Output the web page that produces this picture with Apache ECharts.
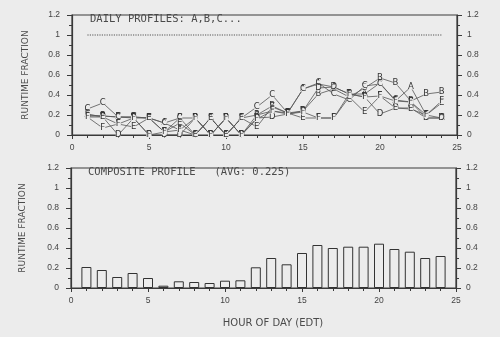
<!DOCTYPE html>
<html><head><meta charset="utf-8">
<script src="https://cdn.jsdelivr.net/npm/echarts@6/dist/echarts.min.js"></script>
<style>html,body{margin:0;padding:0;background:#ececec}#c{width:500px;height:337px}</style>
</head><body><div id="c"></div>
<script>
var hours = [1,2,3,4,5,6,7,8,9,10,11,12,13,14,15,16,17,18,19,20,21,22,23,24];
var profileNames = ['A','B','C','D','E','F'];
var profA = [0.20,0.19,0.18,0.17,0.17,0.12,0.05,0.00,0.17,0.00,0.17,0.20,0.24,0.22,0.46,0.51,0.48,0.41,0.41,0.52,0.34,0.48,0.20,0.17];
var profB = [0.19,0.19,0.18,0.18,0.17,0.03,0.17,0.17,0.00,0.17,0.00,0.20,0.29,0.22,0.24,0.41,0.46,0.38,0.47,0.57,0.52,0.34,0.41,0.43];
var profC = [0.26,0.32,0.18,0.18,0.17,0.12,0.17,0.00,0.17,0.00,0.17,0.28,0.40,0.22,0.46,0.52,0.41,0.35,0.49,0.51,0.35,0.33,0.17,0.17];
var profD = [0.18,0.18,0.00,0.17,0.00,0.00,0.00,0.17,0.00,0.17,0.00,0.17,0.18,0.21,0.24,0.47,0.48,0.41,0.38,0.21,0.27,0.27,0.17,0.17];
var profE = [0.21,0.18,0.11,0.08,0.17,0.03,0.12,0.00,0.17,0.00,0.17,0.08,0.28,0.22,0.17,0.17,0.17,0.38,0.23,0.39,0.27,0.26,0.20,0.32];
var profF = [0.18,0.07,0.11,0.17,0.00,0.03,0.05,0.17,0.00,0.17,0.00,0.16,0.24,0.21,0.23,0.17,0.17,0.41,0.38,0.39,0.34,0.33,0.20,0.34];
var refLineX = [1,24];
var refLineY = [1,1];
var composite = [0.21,0.18,0.11,0.15,0.10,0.023,0.067,0.06,0.05,0.073,0.077,0.207,0.30,0.237,0.35,0.43,0.40,0.413,0.413,0.443,0.39,0.363,0.30,0.32];
var xTicks = {min:0, max:25, interval:5};
var yTicks = {min:0, max:1.2, interval:0.2};
var titleTop = 'DAILY PROFILES: A,B,C...';
var titleBottom = 'COMPOSITE PROFILE   (AVG: 0.225)';
var yName = 'RUNTIME FRACTION';
var xName = 'HOUR OF DAY (EDT)';

var ink = '#3a3a3a';
var bg = '#ececec';
var lblFont = {color:'#444', fontSize:8.5, fontFamily:'Liberation Sans'};
function yLabelFmt(v){ return v===0?'0':(v===1?'1':String(Math.round(v*10)/10)); }

function xAxis(gi){
  return {type:'value', gridIndex:gi, min:xTicks.min, max:xTicks.max, interval:xTicks.interval,
    axisLine:{show:true,onZero:false,lineStyle:{color:ink,width:1.2}},
    axisTick:{show:true,inside:false,length:4,lineStyle:{color:ink}},
    minorTick:{show:true,splitNumber:5,length:3,lineStyle:{color:ink}},
    splitLine:{show:false}, axisLabel:Object.assign({margin:8},lblFont)};
}
function yAxis(gi,pos){
  return {type:'value', gridIndex:gi, position:pos, min:yTicks.min, max:yTicks.max, interval:yTicks.interval,
    axisLine:{show:true,lineStyle:{color:ink,width:1.2}},
    axisTick:{show:true,length:5,lineStyle:{color:ink}},
    minorTick:{show:true,splitNumber:2,length:3,lineStyle:{color:ink}},
    splitLine:{show:false}, axisLabel:Object.assign({margin:pos==='left'?12:10,formatter:yLabelFmt},lblFont)};
}

var profs = [profA,profB,profC,profD,profE,profF];
var series = [];
profs.forEach(function(p,i){
  series.push({type:'line', xAxisIndex:0, yAxisIndex:0, name:profileNames[i],
    data: hours.map(function(h,k){return [h,p[k]];}),
    symbol:'rect', symbolSize:5, itemStyle:{color:bg},
    lineStyle:{color:'#555',width:0.8},
    label:{show:true, position:'inside', formatter:profileNames[i], color:'#333', fontSize:8.5, fontFamily:'DejaVu Sans'},
    animation:false, z:2+i});
});
series.push({type:'line', xAxisIndex:0, yAxisIndex:0, data: refLineX.map(function(x,k){return [x,refLineY[k]];}),
  symbol:'none', lineStyle:{color:'#555',width:1.2,type:'dotted'}, animation:false});
series.push({type:'bar', xAxisIndex:1, yAxisIndex:2, data: hours.map(function(h,k){return [h,composite[k]];}),
  barWidth:10, itemStyle:{color:'rgba(0,0,0,0)', borderColor:'#333', borderWidth:1}, animation:false});

var chart = echarts.init(document.getElementById('c'), null, {renderer:'canvas'});
chart.setOption({
  backgroundColor:bg,
  animation:false,
  grid:[
    {left:72, right:43, top:15, height:120, show:true, borderColor:ink, borderWidth:1.2},
    {left:71, right:44, top:168, height:120, show:true, borderColor:ink, borderWidth:1.2}
  ],
  xAxis:[xAxis(0), xAxis(1)],
  yAxis:[yAxis(0,'left'), yAxis(0,'right'), yAxis(1,'left'), yAxis(1,'right')],
  series: series.concat([
    {type:'line', xAxisIndex:0, yAxisIndex:1, data:[]},
    {type:'line', xAxisIndex:1, yAxisIndex:3, data:[]}
  ]),
  graphic:[
    {type:'text', left:90, top:14, style:{text:titleTop, fill:'#4a4a4a', font:'10.5px "DejaVu Sans Mono"'}},
    {type:'text', left:88, top:167, style:{text:titleBottom, fill:'#4a4a4a', font:'10.5px "DejaVu Sans Mono"'}},
    {type:'text', x:26, y:75, rotation:Math.PI/2, style:{text:yName, fill:'#4a4a4a', font:'9px "DejaVu Sans"', align:'center', verticalAlign:'middle'}},
    {type:'text', x:23, y:228, rotation:Math.PI/2, style:{text:yName, fill:'#4a4a4a', font:'9px "DejaVu Sans"', align:'center', verticalAlign:'middle'}},
    {type:'text', x:273, y:323, style:{text:xName, fill:'#4a4a4a', font:'10px "DejaVu Sans"', align:'center', verticalAlign:'middle'}}
  ]
});
</script></body></html>
